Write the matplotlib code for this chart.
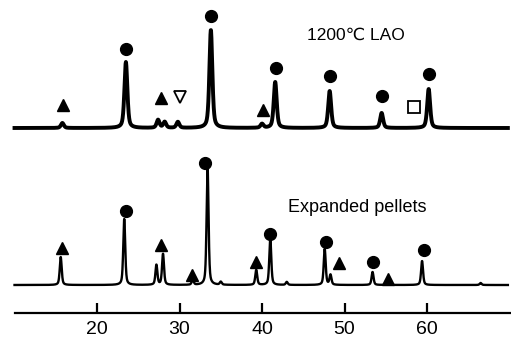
import numpy as np
import matplotlib
matplotlib.use('Agg')
import matplotlib.pyplot as plt

# Peak positions (2-theta, deg) and heights (arb. units above baseline)
# bottom pattern: expanded pellets
pel_pos = [15.6, 23.3, 27.2, 28.0, 31.6, 33.4, 35.0, 39.3, 41.0, 43.0, 47.6, 48.3, 53.4, 55.3, 59.4, 66.5]
pel_int = [28, 66, 20, 31, 5, 118, 3, 15, 47, 3, 36, 10, 13, 4, 24, 2]

# top pattern: 1200C LAO
lao_pos = [15.8, 23.5, 27.4, 28.2, 29.8, 33.8, 40.0, 41.6, 48.2, 54.5, 60.2]
lao_int = [5, 66, 8, 6, 6, 98, 4, 46, 37, 15, 39]

# phase symbols (position, height above baseline)
lao_circ_x = [23.5, 33.8, 41.7, 48.3, 54.5, 60.3]
lao_circ_y = [79, 112, 60, 52, 32, 54]
lao_tri_x = [15.9, 27.8, 40.1]
lao_tri_y = [23, 30, 18]
lao_vtri_x = [30.0]
lao_vtri_y = [31]
lao_sq_x = [58.4]
lao_sq_y = [21]

pel_circ_x = [23.5, 33.1, 41.0, 47.7, 53.5, 59.6]
pel_circ_y = [74, 122, 51, 43, 23, 35]
pel_tri_x = [15.7, 27.8, 31.5, 39.3, 49.3, 55.3]
pel_tri_y = [37, 40, 10, 23, 22, 6]

lao_offset = 157


def profile(x, pos, inten, w):
    y = np.zeros_like(x)
    for p, h in zip(pos, inten):
        y += h * (0.5 * np.exp(-((x - p) / w) ** 2 * np.log(2)) + 0.5 / (1 + ((x - p) / w) ** 2))
    return y


x = np.linspace(10, 69.8, 3000)
y_pel = profile(x, pel_pos, pel_int, 0.14)
y_lao = profile(x, lao_pos, lao_int, 0.21) + lao_offset

fig = plt.figure(figsize=(5.11, 3.45), dpi=100)
ax = fig.add_axes([0, 0, 1, 1])

ax.plot(x, y_lao, color='black', lw=2.8)
ax.plot(x, y_pel, color='black', lw=1.7)

ax.plot(lao_circ_x, np.array(lao_circ_y) + lao_offset, 'o', color='black', ms=8.5)
ax.plot(lao_tri_x, np.array(lao_tri_y) + lao_offset, '^', color='black', ms=8)
ax.plot(lao_vtri_x, np.array(lao_vtri_y) + lao_offset, 'v', mfc='white', mec='black', mew=1.3, ms=8)
ax.plot(lao_sq_x, np.array(lao_sq_y) + lao_offset, 's', mfc='white', mec='black', mew=1.3, ms=8.5)
ax.plot(pel_circ_x, pel_circ_y, 'o', color='black', ms=8.5)
ax.plot(pel_tri_x, pel_tri_y, '^', color='black', ms=8)

ax.text(51.4, lao_offset + 93, '1200\u2103 LAO', fontsize=12.5, ha='center', va='center',
        family=['Liberation Sans', 'DejaVu Sans'])
ax.text(51.5, 77, 'Expanded pellets', fontsize=13, ha='center', va='center',
        family=['Liberation Sans', 'DejaVu Sans'])

ax.set_xlim(8.24, 70.18)
ax.set_ylim(-60, 285)
for s in ['left', 'right', 'top']:
    ax.spines[s].set_visible(False)
ax.spines['bottom'].set_position(('data', -28))
ax.spines['bottom'].set_bounds(10, 70.2)
ax.spines['bottom'].set_linewidth(1.6)
ax.set_yticks([])
ax.set_xticks([20, 30, 40, 50, 60])
ax.tick_params(axis='x', direction='in', length=7, width=1.6, pad=6, labelsize=14)
for lab in ax.get_xticklabels():
    lab.set_family(['Liberation Sans', 'DejaVu Sans'])
ax.patch.set_visible(False)

fig.savefig('out.png', dpi=100)
